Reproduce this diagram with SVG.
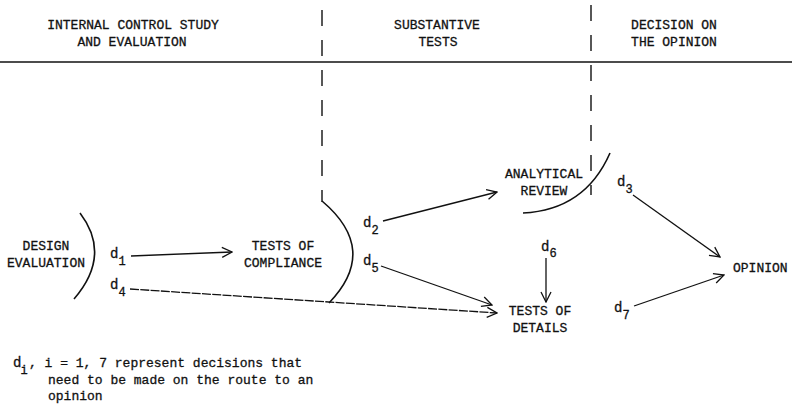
<svg xmlns="http://www.w3.org/2000/svg" width="792" height="410" viewBox="0 0 792 410">
<defs>
<style>
text{font-family:"Liberation Mono","Courier New",monospace;font-size:13px;fill:#111;stroke:#111;stroke-width:0.3}
.c{text-anchor:middle}
.d{font-size:14px}
.s{font-size:12px}
.ln{stroke:#111;stroke-width:1.3;fill:none}
.dash{stroke:#111;stroke-width:1.4;fill:none;stroke-dasharray:16 14}
.arc{stroke:#111;stroke-width:1.6;fill:none}
</style>
<marker id="ah" viewBox="0 0 12 12" refX="11" refY="6" markerWidth="12" markerHeight="12" markerUnits="userSpaceOnUse" orient="auto">
<path d="M1,1 L11,6 L1,11" fill="none" stroke="#111" stroke-width="1.3"/>
</marker>
</defs>
<rect width="792" height="410" fill="#fff"/>
<g id="header">
<text class="c" x="133" y="29">INTERNAL CONTROL STUDY</text>
<text class="c" x="132" y="46">AND EVALUATION</text>
<text class="c" x="437" y="29">SUBSTANTIVE</text>
<text class="c" x="438" y="46">TESTS</text>
<text class="c" x="674" y="29">DECISION ON</text>
<text class="c" x="674" y="46">THE OPINION</text>
<line class="ln" x1="0" y1="62" x2="792" y2="62"/>
<line class="dash" x1="322" y1="10" x2="322" y2="202"/>
<line class="dash" x1="591" y1="5" x2="591" y2="195"/>
</g>
<g id="design-evaluation">
<text class="c" x="46" y="250">DESIGN</text>
<text class="c" x="46" y="267">EVALUATION</text>
<path class="arc" d="M80,213 Q112,255 74,299"/>
</g>
<g id="tests-of-compliance">
<text class="c" x="283" y="250">TESTS OF</text>
<text class="c" x="283" y="267">COMPLIANCE</text>
<path class="arc" d="M322,201 Q380,250 329,303"/>
</g>
<g id="analytical-review">
<text class="c" x="544" y="178">ANALYTICAL</text>
<text class="c" x="544" y="195">REVIEW</text>
<path class="arc" d="M523,213 Q585,210 610,153"/>
</g>
<g id="tests-of-details">
<text class="c" x="540" y="315">TESTS OF</text>
<text class="c" x="540" y="332">DETAILS</text>
</g>
<g id="opinion">
<text x="733" y="272">OPINION</text>
</g>
<g id="decisions">
<text class="d" x="110" y="258">d<tspan class="s" dy="7">1</tspan></text>
<text class="d" x="110" y="289">d<tspan class="s" dy="7">4</tspan></text>
<text class="d" x="363" y="227">d<tspan class="s" dy="7">2</tspan></text>
<text class="d" x="363" y="265">d<tspan class="s" dy="7">5</tspan></text>
<text class="d" x="541" y="251">d<tspan class="s" dy="6">6</tspan></text>
<text class="d" x="617" y="186">d<tspan class="s" dy="7">3</tspan></text>
<text class="d" x="614" y="312">d<tspan class="s" dy="7">7</tspan></text>
</g>
<g id="connectors">
<line class="ln" x1="131" y1="256" x2="232" y2="252" marker-end="url(#ah)"/>
<line class="ln" x1="130" y1="289" x2="497" y2="313" marker-end="url(#ah)" stroke-dasharray="9 1.3"/>
<line class="ln" x1="383" y1="221" x2="497" y2="192" marker-end="url(#ah)"/>
<line class="ln" x1="381" y1="266" x2="492" y2="305" marker-end="url(#ah)"/>
<line class="ln" x1="546" y1="258" x2="546" y2="302" marker-end="url(#ah)"/>
<line class="ln" x1="633" y1="195" x2="720" y2="257" marker-end="url(#ah)"/>
<line class="ln" x1="634" y1="306" x2="724" y2="275" marker-end="url(#ah)"/>
</g>
<g id="note">
<text class="d" x="13" y="367">d<tspan class="s" dx="-1" dy="7">i</tspan></text>
<text x="29" y="367">, i = 1, 7 represent decisions that</text>
<text x="48" y="384">need to be made on the route to an</text>
<text x="48" y="400">opinion</text>
</g>
</svg>
